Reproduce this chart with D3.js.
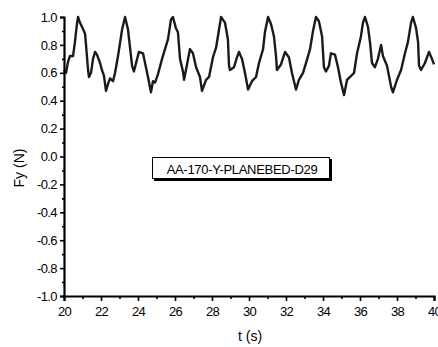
<!DOCTYPE html>
<html><head><meta charset="utf-8">
<script src="https://cdn.jsdelivr.net/npm/d3@7"></script>
<style>body{margin:0;background:#fff;}svg{display:block;font-family:"Liberation Sans",Arial,sans-serif;}</style>
</head><body><svg id="c" width="438" height="347"></svg>
<script>
const tValues = [20.00,20.11,20.22,20.32,20.49,20.59,20.70,20.76,20.86,20.97,21.14,21.19,21.30,21.35,21.46,21.57,21.68,21.78,21.95,22.05,22.16,22.27,22.38,22.49,22.65,22.76,22.92,23.14,23.30,23.46,23.68,23.78,24.05,24.27,24.54,24.70,24.81,24.92,25.08,25.30,25.46,25.62,25.78,25.89,26.05,26.16,26.27,26.43,26.49,26.65,26.81,26.97,27.14,27.35,27.46,27.68,27.84,28.05,28.22,28.38,28.49,28.70,28.86,28.92,28.97,29.19,29.35,29.46,29.62,29.78,29.95,30.16,30.38,30.54,30.76,30.86,31.03,31.19,31.35,31.46,31.51,31.73,31.95,32.16,32.32,32.54,32.70,32.92,33.08,33.30,33.46,33.62,33.78,33.95,34.05,34.16,34.32,34.43,34.65,34.81,34.97,35.14,35.30,35.46,35.68,35.84,36.05,36.16,36.27,36.43,36.54,36.65,36.81,36.97,37.14,37.24,37.46,37.68,37.78,38.00,38.22,38.43,38.59,38.76,38.86,39.03,39.14,39.19,39.30,39.51,39.73,39.89,40.00];
const fyValues = [0.62,0.60,0.68,0.72,0.72,0.82,0.95,1.00,0.96,0.93,0.88,0.80,0.62,0.57,0.60,0.70,0.75,0.73,0.67,0.62,0.58,0.47,0.52,0.56,0.54,0.60,0.72,0.91,1.00,0.91,0.65,0.61,0.75,0.74,0.57,0.46,0.54,0.53,0.59,0.70,0.77,0.84,0.98,1.00,0.92,0.89,0.70,0.61,0.55,0.66,0.77,0.74,0.64,0.57,0.47,0.55,0.57,0.71,0.78,0.91,1.00,0.96,0.84,0.65,0.62,0.64,0.71,0.75,0.70,0.60,0.48,0.54,0.57,0.67,0.77,0.89,1.00,0.95,0.86,0.72,0.62,0.66,0.75,0.71,0.60,0.48,0.55,0.60,0.67,0.77,0.90,1.00,0.97,0.86,0.64,0.61,0.65,0.74,0.73,0.64,0.53,0.44,0.55,0.57,0.60,0.74,0.86,0.96,1.00,0.93,0.82,0.67,0.64,0.70,0.80,0.72,0.65,0.50,0.46,0.55,0.62,0.74,0.82,0.96,1.00,0.92,0.82,0.65,0.62,0.67,0.75,0.70,0.66];
const xTicks = [20,22,24,26,28,30,32,34,36,38,40];
const xMinor = [21,23,25,27,29,31,33,35,37,39];
const yTicks = [1.0,0.8,0.6,0.4,0.2,0.0,-0.2,-0.4,-0.6,-0.8,-1.0];
const yMinor = [0.9,0.7,0.5,0.3,0.1,-0.1,-0.3,-0.5,-0.7,-0.9];
const xLabel = "t (s)", yLabel = "Fy (N)", legendText = "AA-170-Y-PLANEBED-D29";

const svg = d3.select("#c");
const L = 64, R = 434, T = 17, B = 296;
const x = d3.scaleLinear().domain([20,40]).range([L,R]);
const y = d3.scaleLinear().domain([-1,1]).range([B,T]);

const line = d3.line().x((d,i)=>x(tValues[i])).y(d=>y(d));
svg.append("path").datum(fyValues).attr("d",line).attr("fill","none")
  .attr("stroke","#1a1a1a").attr("stroke-width",2.4).attr("stroke-linejoin","round");

// axes
svg.append("g").attr("transform",`translate(0,${B})`)
  .call(d3.axisBottom(x).tickValues(xTicks).tickFormat(d3.format("d")).tickSize(5).tickPadding(6));
svg.append("g").attr("transform",`translate(0,${B})`)
  .call(d3.axisBottom(x).tickValues(xMinor).tickFormat("").tickSize(3))
  .select(".domain").remove();
const yAx = svg.append("g").attr("transform",`translate(${L},0)`)
  .call(d3.axisLeft(y).tickValues(yTicks).tickFormat(d3.format(".1f")).tickSize(4).tickPadding(3));
svg.append("g").attr("transform",`translate(${L},0)`)
  .call(d3.axisLeft(y).tickValues(yMinor).tickFormat("").tickSize(2))
  .select(".domain").remove();
svg.selectAll(".domain").attr("stroke","#000").attr("stroke-width",2.2);
svg.selectAll(".tick line").attr("stroke","#000").attr("stroke-width",1.6);
svg.selectAll(".tick text").attr("font-size",13).attr("fill","#000")
  .attr("font-family","'Liberation Sans',Arial,sans-serif").attr("letter-spacing","-0.6");
yAx.selectAll(".tick text").text(d=>d3.format(".1f")(d).replace("−","-"));

svg.append("text").attr("x",250).attr("y",341).attr("text-anchor","middle")
  .attr("font-size",14).text(xLabel);
svg.append("text").attr("transform","translate(24,168) rotate(-90)").attr("text-anchor","middle")
  .attr("font-size",14).text(yLabel);

// legend box
svg.append("rect").attr("x",154).attr("y",159).attr("width",178).attr("height",22).attr("fill","#000");
svg.append("rect").attr("x",152.5).attr("y",157.5).attr("width",177).attr("height",21)
  .attr("fill","#fff").attr("stroke","#000").attr("stroke-width",1);
svg.append("text").attr("x",242).attr("y",173.5).attr("text-anchor","middle")
  .attr("font-size",13).attr("letter-spacing","-0.3").text(legendText);
</script></body></html>
